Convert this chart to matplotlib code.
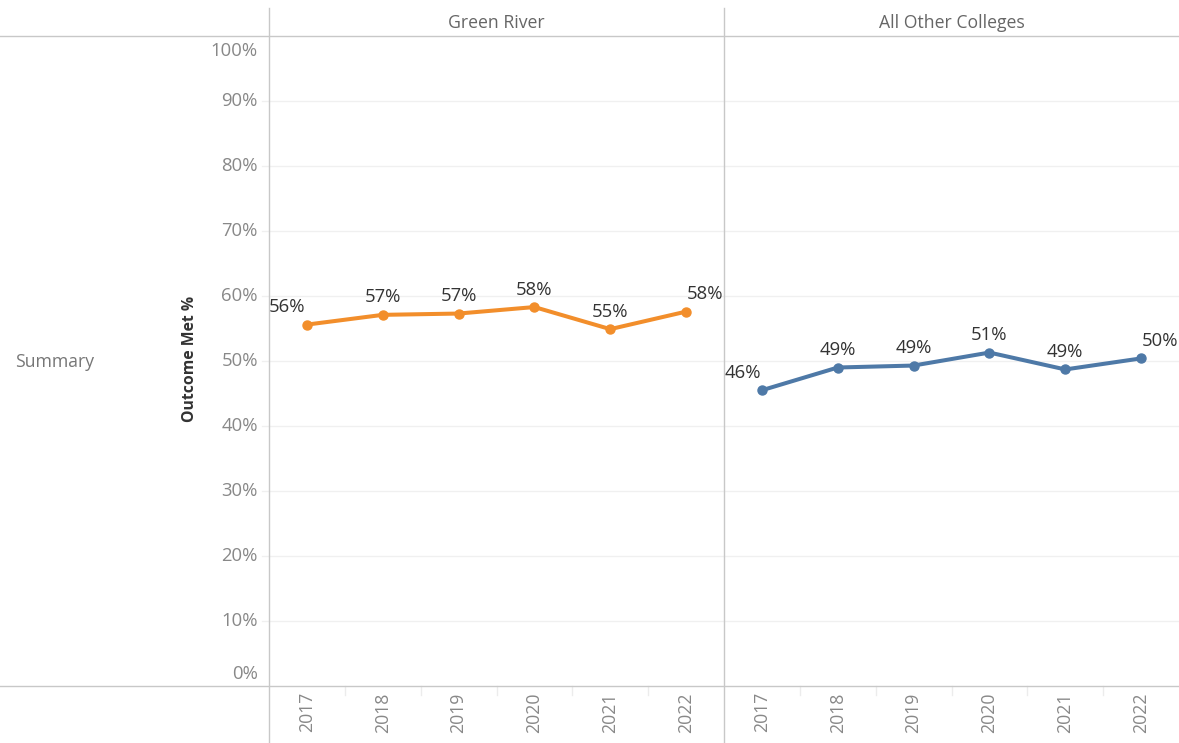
import matplotlib
matplotlib.use("Agg")
import matplotlib.pyplot as plt
from matplotlib.lines import Line2D

years = ["2017", "2018", "2019", "2020", "2021", "2022"]
panels = ["Green River", "All Other Colleges"]
green_river = [55.6, 57.1, 57.3, 58.3, 54.9, 57.6]
other_colleges = [45.5, 49.0, 49.3, 51.3, 48.7, 50.4]
series = [green_river, other_colleges]
colors = ["#F28E2B", "#4E79A7"]
yticks = [0, 10, 20, 30, 40, 50, 60, 70, 80, 90, 100]

W, H = 1179, 743
plt.rcParams['font.family'] = ['Open Sans', 'DejaVu Sans']
fig = plt.figure(figsize=(W / 100, H / 100), dpi=100)

def fx(px):
    return px / W

def fy(py):
    return 1 - py / H

grid_c = "#f0f0f0"
border_c = "#c8c8c8"
tick_c = "#888888"

left0, pw = 269, 455
top, bottom = 36, 686
px_per_unit = (bottom - top) / 100.0
axes = []
for i, (name, vals, col) in enumerate(zip(panels, series, colors)):
    x0 = left0 + i * pw
    ax = fig.add_axes([fx(x0), fy(bottom), pw / W, (bottom - top) / H])
    ax.set_xlim(-0.5, len(years) - 0.5)
    ax.set_ylim(0, 100)
    for s in ax.spines.values():
        s.set_visible(False)
    for t in yticks[1:-1]:
        ax.axhline(t, color=grid_c, lw=1, zorder=0)
    xs = list(range(len(years)))
    ax.plot(xs, vals, color=col, lw=2.9, marker="o", ms=6.5, zorder=3,
            solid_capstyle="round")
    n = len(xs)
    for xv, v in zip(xs, vals):
        dx = 0
        if xv == 0:
            dx = -14
        elif xv == n - 1:
            dx = 13.5
        ax.annotate(f"{round(v):d}%", (xv, v), xytext=(dx, 12.5), textcoords="offset points",
                    ha="center", va="center", fontsize=13.3, color="#333333")
    ax.set_yticks([])
    ax.set_xticks(xs)
    ax.set_xticklabels(years, rotation=90, fontsize=12.7, color=tick_c)
    ax.tick_params(axis="x", length=0, pad=4.5)
    for k in range(1, len(years)):
        ax.plot([k - 0.5, k - 0.5], [0, -1.4], color="#ececec", lw=1, clip_on=False)
    fig.text(fx(x0 + pw / 2), fy(23), name, ha="center", va="center",
             fontsize=12.7, color="#666666")
    axes.append(ax)

# y-axis labels
for t in yticks:
    ypx = bottom - t * px_per_unit
    if t == 100:
        ypx += 15
    if t == 0:
        ypx -= 12
    fig.text(fx(258), fy(ypx), f"{t}%", ha="right", va="center",
             fontsize=13.3, color=tick_c)
    if 0 < t < 100:
        yl = bottom - t * px_per_unit
        fig.add_artist(Line2D([fx(262), fx(269)], [fy(yl)] * 2, color=grid_c, lw=1))

fig.text(fx(190), fy(359), "Outcome Met %", rotation=90, ha="center", va="center",
         fontsize=11.3, fontweight="bold", color="#333333")
fig.text(fx(15), fy(362), "Summary", ha="left", va="center", fontsize=12.7, color="#777777")

# frame lines
fig.add_artist(Line2D([0, 1], [fy(36), fy(36)], color=border_c, lw=1))
fig.add_artist(Line2D([0, 1], [fy(686), fy(686)], color=border_c, lw=1))
for xv in (269, 724):
    fig.add_artist(Line2D([fx(xv), fx(xv)], [fy(8), 0], color=border_c, lw=1))

fig.savefig("out.png", dpi=100, facecolor="white")
